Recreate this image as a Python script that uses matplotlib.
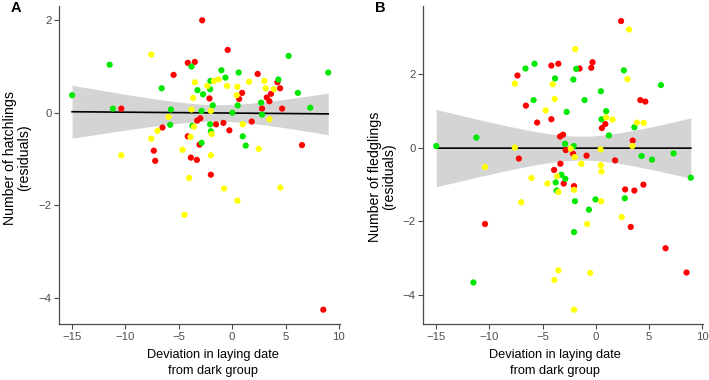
import numpy as np
import matplotlib
matplotlib.use("Agg")
import matplotlib.pyplot as plt

plt.rcParams['font.family'] = ['Liberation Sans', 'DejaVu Sans']

# Panel A - hatchlings (residuals) vs deviation in laying date
a_red_x = [-10.39, -5.49, -6.53, -7.34, -7.21, -4.16, -3.50, -2.81, -2.13, -0.42, -2.99,
           -3.28, -4.16, -3.06, -1.51, -0.82, -0.26, -3.87, -3.31, -2.00, 0.93, 0.65,
           1.83, 2.39, 2.80, 3.24, 3.49, 3.64, 4.24, 4.49, 4.68, 6.54, 8.54]
a_red_y = [0.09, 0.82, -0.32, -0.82, -1.04, 1.08, 1.10, 2.00, 0.31, 1.36, -0.12,
           -0.17, -0.51, -0.69, -0.25, -0.22, -0.38, -0.97, -1.02, -1.34, 0.43, 0.30,
           -0.19, 0.84, 0.09, 0.33, 0.25, 0.41, 0.66, 0.53, 0.09, -0.70, -4.26]
a_green_x = [-15.0, -11.48, -11.17, -6.61, -5.74, -5.81, -3.81, -3.25, -2.73, -2.04, -2.07,
             -1.01, -0.63, -1.82, -2.87, -3.72, -2.87, -2.07, -2.00, 0.02, 0.61, 0.52,
             0.99, 1.27, 2.71, 2.80, 4.33, 5.29, 6.16, 7.32, 9.00]
a_green_y = [0.38, 1.04, 0.09, 0.53, 0.07, -0.26, 1.00, 0.49, 0.40, 0.69, 0.51,
             0.92, 0.76, 0.16, 0.04, -0.28, -0.65, -0.25, -0.40, 0.00, 0.87, 0.16,
             -0.51, -0.71, 0.22, -0.04, 0.72, 1.23, 0.43, 0.11, 0.87]
a_yellow_x = [-10.39, -7.58, -5.96, -7.00, -7.58, -4.66, -3.50, -3.66, -2.32, -1.72, -1.29,
              -0.48, -3.81, -2.00, -3.59, -3.91, -1.93, -2.00, -4.03, -0.76, 0.49, 0.43,
              0.99, 1.58, 2.49, 3.02, 3.14, 3.49, 3.90, 4.51, -4.47, 0.49]
a_yellow_y = [-0.92, 1.26, -0.09, -0.39, -0.56, -0.80, 0.66, 0.32, 0.58, 0.69, 0.72,
              0.58, 0.07, 0.04, -0.30, -0.52, -0.46, -0.92, -1.41, -1.64, 0.56, 0.38,
              -0.25, 0.67, -0.78, 0.69, 0.53, -0.14, 0.51, -1.62, -2.21, -1.90]

# Panel B - fledglings (residuals) vs deviation in laying date
b_red_x = [-7.22, -7.35, -6.56, -5.51, -4.17, -4.17, -3.51, -3.35, -3.07, -2.82, -2.13,
           -0.86, -3.32, -3.91, -3.01, -2.04, 2.76, 3.63, 4.48, -1.52, -0.42, -0.30,
           0.90, 0.58, 1.82, 2.38, 4.19, 4.66, 3.47, -10.40, 3.29, 6.56, 8.53]
b_red_y = [-0.29, 1.97, 1.15, 0.69, 0.78, 2.24, 2.29, 0.31, 0.36, -0.06, -0.16,
           -0.21, -0.43, -0.60, -0.97, -1.04, -1.13, -1.16, -1.00, 2.16, 2.18, 2.33,
           0.65, 0.54, -0.34, 3.45, 1.30, 1.26, 0.20, -2.07, -2.15, -2.73, -3.39]
b_green_x = [-14.98, -11.21, -6.60, -5.75, -5.84, -3.82, -2.73, -2.88, -2.07, -3.23, -2.86,
             -3.76, -1.83, -2.10, -1.05, 0.48, 0.98, 0.54, 1.24, 2.64, 6.12, 3.63,
             4.31, 5.28, 7.31, 8.93, -3.67, -1.95, -0.02, 2.73, -0.64, -2.04, -11.49]
b_green_y = [0.05, 0.28, 2.16, 2.29, 1.30, 1.89, 0.98, 0.11, 0.05, -0.73, -0.84,
             -0.94, 2.15, 1.86, 1.30, 1.54, 1.00, 0.78, 0.34, 2.11, 1.71, 0.56,
             -0.22, -0.32, -0.15, -0.81, -1.16, -1.45, -1.40, -1.37, -1.68, -2.29, -3.66]
b_yellow_x = [-10.40, -7.60, -7.60, -4.70, -4.04, -3.86, -2.35, -1.98, -1.36, -3.63, -6.04,
              -4.54, -1.92, 0.98, 1.57, 0.45, 0.48, 0.54, 3.13, 2.98, 3.88, 4.50,
              3.44, -3.51, -2.04, -7.00, 0.51, -0.80, 2.44, -3.51, -3.88, -0.52, -2.04]
b_yellow_y = [-0.52, 0.01, 1.75, 1.02, 1.73, 1.33, -0.02, -0.25, -0.43, -0.77, -0.82,
              -0.97, 2.69, 0.83, 0.77, -0.04, -0.47, -0.64, 3.22, 1.87, 0.69, 0.68,
              0.05, -1.20, -1.14, -1.48, -1.45, -2.07, -1.88, -3.33, -3.59, -3.40, -4.40]

x_ticks = [-15, -10, -5, 0, 5, 10]
y_ticks = [-4, -2, 0, 2]

RED, GREEN, YELLOW = '#FF0000', '#00E800', '#FFFF00'
T_CRIT = 1.985  # 95% two-sided t quantile, ~95 df


def lm_band(xs, ys):
    # linear fit with 95% confidence band (like geom_smooth(method='lm'))
    x = np.asarray(xs)
    y = np.asarray(ys)
    n = len(x)
    slope, icept = np.polyfit(x, y, 1)
    resid = y - (icept + slope * x)
    s = np.sqrt(np.sum(resid ** 2) / (n - 2))
    grid = np.linspace(x.min(), x.max(), 200)
    fit = icept + slope * grid
    se = s * np.sqrt(1.0 / n + (grid - x.mean()) ** 2 / np.sum((x - x.mean()) ** 2))
    return grid, fit, fit - T_CRIT * se, fit + T_CRIT * se


def draw_panel(ax, groups, ylim, ylabel, ylab_pos, xlab_pos, letter, letter_pos, fig):
    all_x = np.concatenate([g[0] for g in groups])
    all_y = np.concatenate([g[1] for g in groups])
    grid, fit, lo, hi = lm_band(all_x, all_y)
    ax.fill_between(grid, lo, hi, color='#D4D4D4', lw=0, zorder=1)
    ax.plot(grid, fit, color='black', lw=1.2, zorder=2)
    for gx, gy, col in groups:
        ax.scatter(gx, gy, s=20, color=col, edgecolors='none', zorder=3)

    ax.set_xlim(-16.2, 10.1)
    ax.set_ylim(*ylim)
    ax.set_xticks(x_ticks)
    ax.set_yticks(y_ticks)
    for sp in ['top', 'right']:
        ax.spines[sp].set_visible(False)
    for sp in ['left', 'bottom']:
        ax.spines[sp].set_color('#4A4A4A')
        ax.spines[sp].set_linewidth(0.9)
    ax.tick_params(direction='out', length=3.5, width=0.8, color='#4A4A4A',
                   labelsize=8.2, labelcolor='#4D4D4D', pad=2)

    ax.set_xlabel('Deviation in laying date\nfrom dark group', fontsize=9.2,
                  linespacing=1.5, va='center')
    ax.xaxis.set_label_coords(xlab_pos, -0.123)
    ax.set_ylabel(ylabel, fontsize=10.2, linespacing=1.0, va='center')
    ax.yaxis.set_label_coords(*ylab_pos)
    fig.text(letter_pos[0], letter_pos[1], letter, fontsize=10.5, fontweight='bold',
             ha='center', va='center')


fig = plt.figure(figsize=(7.09, 3.80), dpi=100)
ax_a = fig.add_axes([0.0836, 0.1474, 0.3959, 0.8368])
ax_b = fig.add_axes([0.5970, 0.1474, 0.3949, 0.8368])

draw_panel(ax_a,
           [(a_red_x, a_red_y, RED), (a_green_x, a_green_y, GREEN), (a_yellow_x, a_yellow_y, YELLOW)],
           (-4.57, 2.31), 'Number of hatchlings\n(residuals)', (-0.150, 0.522), 0.548,
           'A', (15.5 / 709, 1 - 8.5 / 380), fig)
draw_panel(ax_b,
           [(b_red_x, b_red_y, RED), (b_green_x, b_green_y, GREEN), (b_yellow_x, b_yellow_y, YELLOW)],
           (-4.79, 3.86), 'Number of fledglings\n(residuals)', (-0.1475, 0.462), 0.469,
           'B', (380 / 709, 1 - 8.5 / 380), fig)

fig.savefig('out.png', dpi=100)
